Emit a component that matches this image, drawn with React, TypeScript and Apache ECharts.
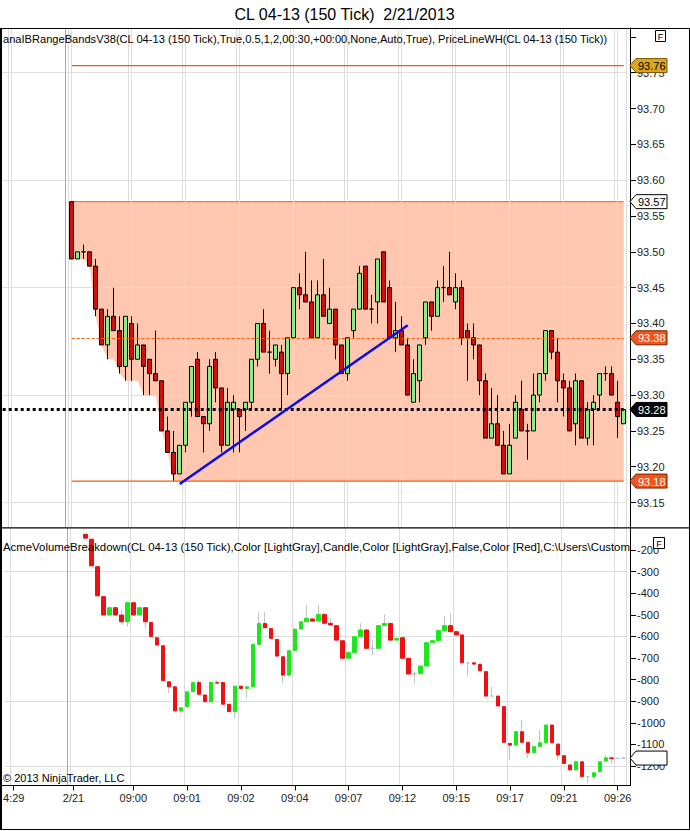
import React, { useEffect, useRef } from 'react';
import * as echarts from 'echarts';

const titleText = 'CL 04-13 (150 Tick)  2/21/2013';
const priceIndicatorText = 'anaIBRangeBandsV38(CL 04-13 (150 Tick),True,0.5,1,2,00:30,+00:00,None,Auto,True), PriceLineWH(CL 04-13 (150 Tick))';
const volumeIndicatorText = 'AcmeVolumeBreakdown(CL 04-13 (150 Tick),Color [LightGray],Candle,Color [LightGray],False,Color [Red],C:\\Users\\Custom';
const copyrightText = '\u00A9 2013 NinjaTrader, LLC';

// x slots: bar numbers, leftmost empty slots belong to the previous session
const firstSlot = -11;
const lastBar = 92;
const tickSlots = [-10, 0, 10, 19, 28, 37, 46, 55, 64, 73, 82, 91];
const tickLabels = ['4:29', '2/21', '09:00', '09:01', '09:02', '09:04', '09:07', '09:12', '09:15', '09:17', '09:21', '09:26'];
const sessionBreakSlot = -1;

// price candles (bars 0..92)
const priceOpen = [
  93.57, 93.49, 93.50, 93.50, 93.48, 93.42, 93.37, 93.41, 93.39, 93.34,
  93.40, 93.35, 93.37, 93.35, 93.33, 93.32, 93.25, 93.22, 93.19, 93.23,
  93.29, 93.35, 93.27, 93.26, 93.35, 93.31, 93.23, 93.28, 93.28, 93.28,
  93.29, 93.35, 93.40, 93.36, 93.35, 93.36, 93.33, 93.38, 93.45, 93.44,
  93.43, 93.38, 93.44, 93.40, 93.42, 93.37, 93.33, 93.39, 93.42, 93.48,
  93.42, 93.43, 93.50, 93.45, 93.38, 93.39, 93.37, 93.29, 93.32, 93.38,
  93.43, 93.41, 93.45, 93.45, 93.43, 93.45, 93.39, 93.38, 93.37, 93.32,
  93.24, 93.26, 93.23, 93.19, 93.24, 93.28, 93.25, 93.25, 93.30, 93.33,
  93.39, 93.36, 93.32, 93.31, 93.26, 93.32, 93.24, 93.28, 93.30, 93.33,
  93.33, 93.29, 93.26,
];
const priceHigh = [
  93.57, 93.50, 93.51, 93.50, 93.49, 93.42, 93.42, 93.45, 93.41, 93.41,
  93.41, 93.40, 93.37, 93.35, 93.39, 93.32, 93.27, 93.25, 93.23, 93.29,
  93.34, 93.36, 93.27, 93.35, 93.36, 93.31, 93.31, 93.30, 93.28, 93.29,
  93.35, 93.40, 93.42, 93.39, 93.37, 93.37, 93.38, 93.45, 93.47, 93.50,
  93.46, 93.46, 93.49, 93.45, 93.42, 93.37, 93.38, 93.42, 93.48, 93.48,
  93.44, 93.49, 93.50, 93.46, 93.43, 93.41, 93.38, 93.35, 93.37, 93.43,
  93.43, 93.46, 93.48, 93.50, 93.47, 93.46, 93.40, 93.40, 93.37, 93.33,
  93.31, 93.30, 93.25, 93.26, 93.30, 93.32, 93.26, 93.33, 93.33, 93.39,
  93.39, 93.38, 93.33, 93.32, 93.33, 93.32, 93.29, 93.30, 93.33, 93.34,
  93.34, 93.32, 93.28,
];
const priceLow = [
  93.49, 93.49, 93.49, 93.48, 93.41, 93.37, 93.35, 93.39, 93.33, 93.32,
  93.32, 93.35, 93.30, 93.30, 93.32, 93.25, 93.22, 93.18, 93.19, 93.22,
  93.27, 93.27, 93.22, 93.25, 93.29, 93.22, 93.23, 93.22, 93.22, 93.25,
  93.28, 93.34, 93.36, 93.33, 93.34, 93.28, 93.30, 93.38, 93.42, 93.43,
  93.38, 93.38, 93.41, 93.40, 93.35, 93.33, 93.32, 93.38, 93.42, 93.42,
  93.40, 93.40, 93.43, 93.38, 93.36, 93.37, 93.30, 93.29, 93.29, 93.37,
  93.39, 93.41, 93.43, 93.44, 93.42, 93.37, 93.32, 93.35, 93.30, 93.24,
  93.24, 93.23, 93.19, 93.19, 93.24, 93.25, 93.21, 93.25, 93.29, 93.32,
  93.35, 93.29, 93.27, 93.25, 93.23, 93.24, 93.23, 93.23, 93.28, 93.32,
  93.30, 93.24, 93.26,
];
const priceClose = [
  93.49, 93.50, 93.50, 93.48, 93.42, 93.37, 93.41, 93.39, 93.34, 93.41,
  93.35, 93.37, 93.34, 93.33, 93.32, 93.25, 93.22, 93.19, 93.23, 93.29,
  93.34, 93.27, 93.26, 93.34, 93.31, 93.23, 93.29, 93.29, 93.27, 93.29,
  93.35, 93.40, 93.36, 93.36, 93.37, 93.33, 93.38, 93.45, 93.44, 93.43,
  93.38, 93.44, 93.41, 93.42, 93.37, 93.33, 93.38, 93.42, 93.47, 93.42,
  93.42, 93.49, 93.43, 93.38, 93.39, 93.37, 93.30, 93.33, 93.37, 93.43,
  93.41, 93.45, 93.45, 93.44, 93.45, 93.38, 93.38, 93.37, 93.32, 93.24,
  93.26, 93.23, 93.19, 93.23, 93.29, 93.25, 93.25, 93.30, 93.33, 93.39,
  93.36, 93.32, 93.31, 93.25, 93.32, 93.24, 93.28, 93.29, 93.33, 93.33,
  93.30, 93.27, 93.28,
];

// range band: high stays at 93.57, low follows the session low
const bandHigh = 93.57;
const bandLow = [
  93.49, 93.49, 93.49, 93.48, 93.41, 93.37, 93.35, 93.35, 93.33, 93.32,
  93.32, 93.32, 93.30, 93.30, 93.30, 93.25, 93.22, 93.18, 93.18, 93.18,
  93.18, 93.18, 93.18, 93.18, 93.18, 93.18, 93.18, 93.18, 93.18, 93.18,
  93.18, 93.18, 93.18, 93.18, 93.18, 93.18, 93.18, 93.18, 93.18, 93.18,
  93.18, 93.18, 93.18, 93.18, 93.18, 93.18, 93.18, 93.18, 93.18, 93.18,
  93.18, 93.18, 93.18, 93.18, 93.18, 93.18, 93.18, 93.18, 93.18, 93.18,
  93.18, 93.18, 93.18, 93.18, 93.18, 93.18, 93.18, 93.18, 93.18, 93.18,
  93.18, 93.18, 93.18, 93.18, 93.18, 93.18, 93.18, 93.18, 93.18, 93.18,
  93.18, 93.18, 93.18, 93.18, 93.18, 93.18, 93.18, 93.18, 93.18, 93.18,
  93.18, 93.18, 93.18,
];
const bandMid = 93.38;
const bandBottomLine = 93.18;
const priorHigh = 93.76;
const lastPrice = 93.28;
const trendStart = { bar: 18, price: 93.176 };
const trendEnd = { bar: 56, price: 93.3975 };

// price axis
const priceMin = 93.1152;
const priceMax = 93.8124;
const priceLabelValues = [93.15, 93.2, 93.25, 93.3, 93.35, 93.4, 93.45, 93.5, 93.55, 93.6, 93.65, 93.7, 93.75];
const priceTickValues = [93.15, 93.2, 93.25, 93.3, 93.35, 93.4, 93.45, 93.5, 93.55, 93.6, 93.65, 93.7, 93.75, 93.8];
const priceGridLevels = [93.15, 93.3, 93.45, 93.6, 93.75];

// price tags on the right axis
const tagLevels = [93.76, 93.57, 93.38, 93.28, 93.18];
const tagTexts = ['93.76', '93.57', '93.38', '93.28', '93.18'];

// volume breakdown candles (bars 0..92, first two above the panel)
const volOpen = [
  null, null, -127, -150, -277, -416, -501, -467, -501, -532,
  -444, -501, -467, -535, -606, -643, -810, -833, -945, -925,
  -856, -813, -871, -902, -813, -813, -914, -948, -830, -841,
  -833, -637, -540, -563, -614, -694, -779, -666, -566, -532,
  -519, -529, -498, -539, -550, -620, -701, -675, -601, -570,
  -655, -655, -550, -540, -617, -606, -701, -774, -771, -737,
  -629, -620, -573, -550, -578, -593, -722, -722, -729, -763,
  -876, -876, -925, -1095, -1103, -1041, -1090, -1138, -1110, -1092,
  -1010, -1098, -1152, -1195, -1218, -1180, -1249, -1249, -1226, -1177,
  -1162, -1165, -1163,
];
const volClose = [
  null, null, -145, -273, -412, -501, -467, -501, -532, -444,
  -501, -467, -532, -601, -640, -805, -833, -945, -930, -856,
  -813, -868, -902, -813, -816, -914, -948, -830, -841, -833,
  -637, -540, -560, -609, -691, -779, -666, -566, -532, -516,
  -529, -498, -539, -547, -617, -701, -675, -601, -570, -655,
  -655, -550, -540, -617, -609, -701, -774, -774, -737, -629,
  -620, -573, -550, -578, -593, -722, -722, -728, -759, -876,
  -876, -922, -1090, -1103, -1041, -1090, -1138, -1110, -1092, -1010,
  -1092, -1149, -1188, -1218, -1180, -1249, -1249, -1231, -1180, -1162,
  -1165, -1165, -1163,
];
const volLow = [
  null, null, -145, -273, -412, -501, -501, -501, -547, -555,
  -501, -501, -563, -601, -640, -805, -863, -945, -956, -925,
  -856, -868, -902, -902, -816, -914, -948, -979, -841, -887,
  -833, -637, -560, -609, -691, -817, -779, -666, -566, -532,
  -529, -529, -539, -547, -617, -701, -701, -675, -601, -655,
  -686, -655, -550, -617, -617, -701, -774, -817, -771, -737,
  -629, -620, -573, -578, -593, -722, -783, -728, -759, -876,
  -876, -922, -1090, -1172, -1103, -1090, -1164, -1138, -1110, -1092,
  -1092, -1170, -1188, -1218, -1218, -1249, -1280, -1260, -1226, -1177,
  -1189, -1168, -1165,
];
const volHigh = [
  null, null, -127, -150, -277, -416, -467, -467, -478, -444,
  -444, -467, -467, -535, -606, -643, -810, -833, -930, -856,
  -813, -802, -871, -813, -802, -813, -914, -830, -830, -833,
  -637, -486, -486, -563, -614, -694, -666, -566, -532, -455,
  -519, -455, -498, -516, -550, -620, -675, -601, -539, -570,
  -617, -550, -496, -540, -609, -606, -701, -763, -737, -629,
  -620, -573, -506, -493, -578, -593, -722, -722, -729, -763,
  -833, -876, -925, -1095, -1041, -987, -1090, -1110, -1033, -1010,
  -1010, -1098, -1152, -1195, -1175, -1180, -1249, -1231, -1180, -1150,
  -1160, -1160, -1160,
];
const volLastValue = -1163;

// volume axis
const volMin = -1290;
const volMax = -98;
const volLabelValues = [-200, -300, -400, -500, -600, -700, -800, -900, -1000, -1100, -1200];
const volGridLevels = [-300, -600, -900, -1200];

const FONT = 'Liberation Sans';

function buildOption() {
  const slots: string[] = [];
  for (let s = firstSlot; s <= lastBar; s++) slots.push(String(s));
  const lead = -firstSlot;
  const slotOf = (bar: number) => bar - firstSlot;
  const padded = (arr: any[]) => [...Array(lead).fill('-'), ...arr];
  const isTick = (v: any) => tickSlots.indexOf(Number(v)) >= 0;
  const lastIdx = slots.length - 1;

  const priceCandles = padded(priceOpen.map((o, i) => [o, priceClose[i], priceLow[i], priceHigh[i]]));
  const bandBase = padded(bandLow);
  const bandSpan = padded(bandLow.map((v) => +(bandHigh - v).toFixed(4)));
  // a level drawn from the first to the last bar (only the two end points carry the value)
  const levelEnds = (level: number) =>
    slots.map((_s, k) => (k === slotOf(0) || k === slotOf(lastBar) ? level : '-'));

  const volWicks = padded(volOpen.map((o, i) => (o === null ? '-' : [o, volClose[i], volLow[i], volHigh[i]])));
  const volBodies = padded(
    volOpen.map((o, i) => {
      if (o === null) return '-';
      const c = volClose[i] as number;
      return [o, c, Math.min(o, c), Math.max(o, c)];
    })
  );

  const tagFill = ['#DAA520', '#FFFFFF', '#F2541B', '#000000', '#F2541B'];
  const tagStroke = ['#7A5A00', '#000000', '#7A2000', '#000000', '#7A2000'];
  const tagTextColor = ['#000000', '#000000', '#FFFFFF', '#FFFFFF', '#FFFFFF'];

  const tagShape = (x0: number, y: number) => {
    const h = 14, w = 37, a = 6;
    return [
      [x0, y],
      [x0 + a, y - h / 2],
      [x0 + w, y - h / 2],
      [x0 + w, y + h / 2],
      [x0 + a, y + h / 2],
    ];
  };

  const renderPriceTag = (params: any, api: any) => {
    const i = params.dataIndex;
    const cs = params.coordSys;
    const y = api.coord([api.value(0), api.value(1)])[1];
    const x0 = cs.x + cs.width + 3.3;
    return {
      type: 'group',
      children: [
        {
          type: 'polygon',
          shape: { points: tagShape(x0, y) },
          style: { fill: tagFill[i], stroke: tagStroke[i], lineWidth: 1 },
        },
        {
          type: 'text',
          style: {
            text: tagTexts[i],
            x: x0 + 8,
            y: y + 0.5,
            fill: tagTextColor[i],
            fontSize: 11,
            fontFamily: FONT,
            align: 'left',
            verticalAlign: 'middle',
          },
        },
      ],
    };
  };

  const renderVolTag = (params: any, api: any) => {
    const cs = params.coordSys;
    const y = api.coord([api.value(0), api.value(1)])[1];
    const x0 = cs.x + cs.width + 3.3;
    return {
      type: 'polygon',
      shape: { points: tagShape(x0, y) },
      style: { fill: '#FFFFFF', stroke: '#000000', lineWidth: 1 },
    };
  };

  const orange = '#F05E12';
  const gridColor = '#DCDCDC';
  const gridOverBand = '#E2DEDC';

  const xAxisBase = {
    type: 'category',
    data: slots,
    boundaryGap: true,
    axisLine: { show: false },
    splitLine: { show: true, interval: (_i: number, v: any) => isTick(v), lineStyle: { color: gridColor, width: 1 } },
  };

  const hLine = (v: number) => ({ yAxis: v });
  const vLine = (s: number) => ({ xAxis: slotOf(s) });
  const span = (level: number, style?: any) => [
    { coord: [slotOf(0), level], ...(style ? { lineStyle: style } : {}) },
    { coord: [slotOf(lastBar), level], ...(style ? { lineStyle: style } : {}) },
  ];

  const levelSeries = (name: string, level: number) => ({
    type: 'line',
    name,
    xAxisIndex: 0,
    yAxisIndex: 0,
    z: 4,
    data: levelEnds(level),
    connectNulls: true,
    symbol: 'none',
    silent: true,
    color: orange,
    itemStyle: { color: orange },
    lineStyle: { color: orange, width: 1.3, type: 'solid', opacity: 1 },
  });

  return {
    animation: false,
    textStyle: { fontFamily: FONT },
    grid: [
      { left: 2.7, top: 28, width: 624, height: 499.5 },
      { left: 2.7, top: 528, width: 624, height: 257.5 },
    ],
    xAxis: [
      { ...xAxisBase, gridIndex: 0, axisTick: { show: false }, axisLabel: { show: false } },
      {
        ...xAxisBase,
        gridIndex: 1,
        axisTick: { show: true, interval: (_i: number, v: any) => isTick(v), length: 5, alignWithLabel: true, lineStyle: { color: '#000' } },
        axisLabel: {
          show: true,
          interval: (_i: number, v: any) => isTick(v),
          formatter: (v: any) => {
            const k = tickSlots.indexOf(Number(v));
            return k >= 0 ? tickLabels[k] : '';
          },
          fontSize: 11,
          color: '#222',
          margin: 7,
          fontFamily: FONT,
        },
      },
    ],
    yAxis: [
      {
        type: 'value',
        gridIndex: 0,
        position: 'right',
        offset: 3.3,
        min: priceMin,
        max: priceMax,
        axisLine: { show: true, lineStyle: { color: '#000', width: 1 } },
        axisTick: { show: true, length: 6, customValues: priceTickValues, lineStyle: { color: '#000' } },
        axisLabel: {
          show: true,
          customValues: priceLabelValues,
          formatter: (v: number) => v.toFixed(2),
          fontSize: 11,
          color: '#222',
          margin: 7,
          fontFamily: FONT,
        },
        splitLine: { show: false },
      },
      {
        type: 'value',
        gridIndex: 1,
        position: 'right',
        offset: 3.3,
        min: volMin,
        max: volMax,
        axisLine: { show: true, lineStyle: { color: '#000', width: 1 } },
        axisTick: { show: true, length: 6, customValues: volLabelValues, lineStyle: { color: '#000' } },
        axisLabel: {
          show: true,
          customValues: volLabelValues,
          formatter: (v: number) => String(v),
          fontSize: 11,
          color: '#222',
          margin: 7,
          fontFamily: FONT,
        },
        splitLine: { show: false },
      },
    ],
    series: [
      {
        type: 'line',
        name: 'bandBase',
        xAxisIndex: 0,
        yAxisIndex: 0,
        stack: 'band',
        z: 1,
        data: bandBase,
        symbol: 'none',
        silent: true,
        lineStyle: { opacity: 0 },
      },
      {
        type: 'line',
        name: 'bandSpan',
        xAxisIndex: 0,
        yAxisIndex: 0,
        stack: 'band',
        z: 1,
        data: bandSpan,
        symbol: 'none',
        silent: true,
        color: orange,
        lineStyle: { color: orange, width: 1 },
        areaStyle: { color: '#FFC6B0', opacity: 1 },
      },
      {
        type: 'line',
        name: 'gridHolder',
        xAxisIndex: 0,
        yAxisIndex: 0,
        z: 2,
        data: bandBase,
        symbol: 'none',
        silent: true,
        lineStyle: { opacity: 0 },
        markLine: {
          silent: true,
          z: 2,
          symbol: ['none', 'none'],
          label: { show: false },
          lineStyle: { color: gridOverBand, width: 1, type: 'solid', opacity: 1 },
          data: [
            ...priceGridLevels.map(hLine),
            ...tickSlots.map(vLine),
            { xAxis: slotOf(sessionBreakSlot), lineStyle: { color: '#A8A8A8', width: 1, type: 'solid' } },
          ],
        },
      },
      levelSeries('priorHigh', priorHigh),
      levelSeries('bandBottom', bandBottomLine),
      {
        type: 'candlestick',
        name: 'price',
        xAxisIndex: 0,
        yAxisIndex: 0,
        z: 3,
        data: priceCandles,
        barWidth: 5,
        silent: true,
        itemStyle: {
          color: '#8CEC8C',
          color0: '#CC1010',
          borderColor: '#000',
          borderColor0: '#000',
          borderColorDoji: '#000',
          borderWidth: 1,
        },
        markLine: {
          silent: true,
          z: 6,
          symbol: ['none', 'none'],
          label: { show: false },
          lineStyle: { color: orange, width: 1, type: [3, 2], opacity: 1 },
          data: [
            span(bandMid, { color: orange, width: 1, type: [3, 2] }),
            { yAxis: lastPrice, lineStyle: { color: '#000', width: 3, type: [3, 3] } },
            [
              { coord: [slotOf(trendStart.bar), trendStart.price], lineStyle: { color: '#0A0AE6', width: 2.5, type: 'solid' } },
              { coord: [slotOf(trendEnd.bar), trendEnd.price], lineStyle: { color: '#0A0AE6', width: 2.5, type: 'solid' } },
            ],
          ],
        },
      },
      {
        type: 'custom',
        name: 'priceTags',
        xAxisIndex: 0,
        yAxisIndex: 0,
        clip: false,
        silent: true,
        z: 10,
        data: tagLevels.map((v) => [lastIdx, v]),
        renderItem: renderPriceTag,
      },
      {
        type: 'candlestick',
        name: 'volWicks',
        xAxisIndex: 1,
        yAxisIndex: 1,
        z: 2,
        data: volWicks,
        barWidth: 1,
        silent: true,
        itemStyle: {
          color: '#C4C4C4',
          color0: '#C4C4C4',
          borderColor: '#C4C4C4',
          borderColor0: '#C4C4C4',
          borderColorDoji: '#C4C4C4',
          borderWidth: 1,
        },
        markLine: {
          silent: true,
          z: 1,
          symbol: ['none', 'none'],
          label: { show: false },
          lineStyle: { color: gridColor, width: 1, type: 'solid' },
          data: [...volGridLevels.map(hLine), { xAxis: slotOf(sessionBreakSlot), lineStyle: { color: '#A8A8A8', width: 1, type: 'solid' } }],
        },
      },
      {
        type: 'candlestick',
        name: 'volBodies',
        xAxisIndex: 1,
        yAxisIndex: 1,
        z: 3,
        data: volBodies,
        barWidth: 4,
        silent: true,
        itemStyle: {
          color: '#1EE61E',
          color0: '#EE1111',
          borderColor: '#1EE61E',
          borderColor0: '#EE1111',
          borderColorDoji: '#BEBEBE',
          borderWidth: 1,
        },
      },
      {
        type: 'custom',
        name: 'volTag',
        xAxisIndex: 1,
        yAxisIndex: 1,
        clip: false,
        silent: true,
        z: 10,
        data: [[lastIdx, volLastValue]],
        renderItem: renderVolTag,
      },
    ],
    graphic: [
      {
        type: 'text',
        left: 'center',
        top: 6,
        style: { text: titleText, fontSize: 16, fontFamily: FONT, fill: '#000' },
      },
      {
        type: 'text',
        x: 3,
        y: 39,
        z: 20,
        style: { text: priceIndicatorText, fontSize: 11.1, fontFamily: FONT, fill: '#000', verticalAlign: 'middle' },
      },
      {
        type: 'text',
        x: 3,
        y: 547,
        z: 20,
        style: { text: volumeIndicatorText, fontSize: 11.4, fontFamily: FONT, fill: '#000', verticalAlign: 'middle' },
      },
      {
        type: 'text',
        x: 3,
        y: 778,
        z: 20,
        style: { text: copyrightText, fontSize: 11, fontFamily: FONT, fill: '#000', verticalAlign: 'middle' },
      },
      { type: 'rect', z: 20, shape: { x: 655.5, y: 30.5, width: 10, height: 11 }, style: { fill: '#fff', stroke: '#000', lineWidth: 1 } },
      { type: 'text', z: 21, x: 660.5, y: 36.5, style: { text: 'F', fontSize: 9, fontFamily: FONT, fill: '#000', align: 'center', verticalAlign: 'middle' } },
      { type: 'rect', z: 20, shape: { x: 653.5, y: 537.5, width: 11, height: 11 }, style: { fill: '#fff', stroke: '#000', lineWidth: 1 } },
      { type: 'text', z: 21, x: 659, y: 543.5, style: { text: 'F', fontSize: 9, fontFamily: FONT, fill: '#000', align: 'center', verticalAlign: 'middle' } },
      { type: 'line', z: 30, shape: { x1: 0, y1: 28.5, x2: 690, y2: 28.5 }, style: { stroke: '#000', lineWidth: 1 } },
      { type: 'line', z: 30, shape: { x1: 0, y1: 527.8, x2: 690, y2: 527.8 }, style: { stroke: '#000', lineWidth: 1.2 } },
      { type: 'line', z: 30, shape: { x1: 0, y1: 785.5, x2: 630, y2: 785.5 }, style: { stroke: '#000', lineWidth: 1 } },
      { type: 'line', z: 30, shape: { x1: 1, y1: 28, x2: 1, y2: 830 }, style: { stroke: '#000', lineWidth: 2 } },
      { type: 'line', z: 30, shape: { x1: 689.5, y1: 28, x2: 689.5, y2: 830 }, style: { stroke: '#000', lineWidth: 1 } },
      { type: 'line', z: 30, shape: { x1: 0, y1: 829.5, x2: 690, y2: 829.5 }, style: { stroke: '#000', lineWidth: 1 } },
    ],
  };
}

export default function App() {
  const ref = useRef<HTMLDivElement>(null);
  useEffect(() => {
    document.body.style.margin = '0';
    const chart = echarts.init(ref.current as HTMLDivElement, undefined, { renderer: 'svg' });
    chart.setOption(buildOption() as any);
    return () => chart.dispose();
  }, []);
  return <div ref={ref} style={{ width: 690, height: 831 }} />;
}
